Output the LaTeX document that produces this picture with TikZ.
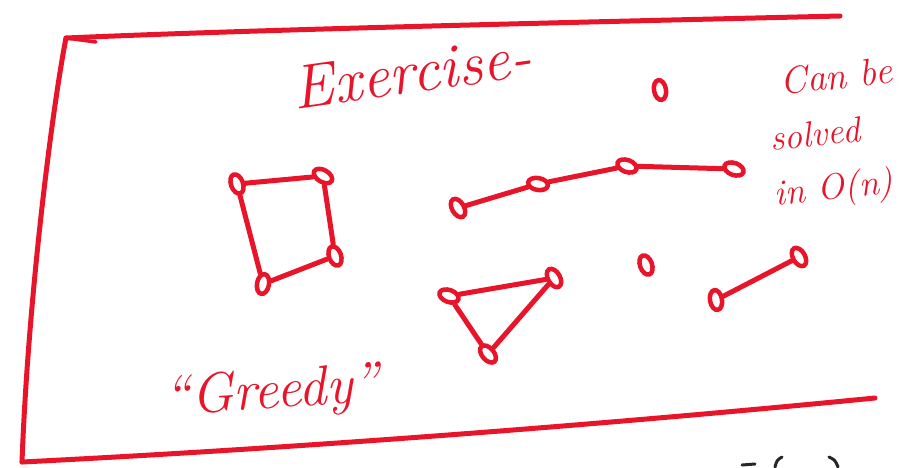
\documentclass[tikz,border=0pt]{standalone}
\usepackage{xcolor}
\usepackage{tikz}
\usetikzlibrary{shapes.geometric, positioning}

\definecolor{inkred}{RGB}{232,20,42}
\tikzset{
  ink/.style={draw=inkred, line width=5pt, line cap=round, line join=round},
  dot/.style={draw=inkred, ellipse, line width=4.5pt, minimum width=12pt, minimum height=20pt, inner sep=0pt},
  scrawl/.style={text=inkred, font=\itshape, inner sep=0pt}
}

\begin{document}
\begin{tikzpicture}[x=1pt, y=-1pt]
    \useasboundingbox (0,0) rectangle (908,467);

    % Frame
    \coordinate (tr) at (840,16);
    \coordinate (tl) at (66,38);
    \coordinate (bl) at (22,462);
    \coordinate (br) at (875,398);
    \coordinate (tick) at (96,42);
    \draw[ink] (tr) .. controls (500,24) and (250,30) .. (tl);
    \draw[ink] (tl) .. controls (52,110) and (28,300) .. (bl);
    \draw[ink] (bl) .. controls (300,448) and (600,425) .. (br);
    \draw[ink, line width=3.5pt] (tl) -- (tick);

    % Title
    \node (title) [scrawl, font=\itshape\fontsize{62}{62}\selectfont, rotate=8] at (412,72) {Exercise-};

    % Quadrilateral
    \node (q1) [dot, rotate=20] at (237,184) {};
    \node (q2) [dot, rotate=60] at (323,176) {};
    \node (q3) [dot, rotate=20] at (335,256) {};
    \node (q4) [dot, rotate=-10] at (263,284) {};
    \draw[ink] (q1) -- (q2) -- (q3) -- (q4) -- (q1);

    % Chain
    \node (c1) [dot, rotate=30] at (458,208) {};
    \node (c2) [dot, rotate=80] at (538,184) {};
    \node (c3) [dot, rotate=70] at (627,166) {};
    \node (c4) [dot, rotate=70] at (734,169) {};
    \draw[ink] (c1) -- (c2) -- (c3) -- (c4);

    % Lone points
    \node (p1) [dot, rotate=10] at (660,90) {};
    \node (p2) [dot, rotate=20] at (646,265) {};

    % Triangle
    \node (t1) [dot, rotate=70] at (449,296) {};
    \node (t2) [dot, rotate=30] at (554,278) {};
    \node (t3) [dot, rotate=40] at (488,354) {};
    \draw[ink] (t1) -- (t2) -- (t3) -- (t1);

    % Segment
    \node (s1) [dot, rotate=10] at (716,300) {};
    \node (s2) [dot, rotate=30] at (799,257) {};
    \draw[ink] (s1) -- (s2);

    % Side note
    \node (note1) [scrawl, font=\itshape\fontsize{38}{38}\selectfont, rotate=6] at (836,76) {Can be};
    \node (note2) [scrawl, font=\itshape\fontsize{36}{36}\selectfont, rotate=6] at (815,134) {solved};
    \node (note3) [scrawl, font=\itshape\fontsize{36}{36}\selectfont, rotate=6] at (834,190) {in O(n)};

    % Greedy
    \node (greedy) [scrawl, font=\itshape\fontsize{56}{56}\selectfont, rotate=4] at (272,394) {``Greedy''};

    % Cut-off marks at the bottom
    \coordinate (m1) at (742,465);
    \coordinate (m2) at (755,464);
    \draw[black!85, line width=3pt, line cap=round] (m1) -- (m2);
    \draw[black!85, line width=3pt, line cap=round] (782,457) .. controls (777,460) .. (775,467);
    \draw[black!85, line width=3pt, line cap=round] (829,457) .. controls (835,460) .. (838,467);
\end{tikzpicture}
\end{document}
